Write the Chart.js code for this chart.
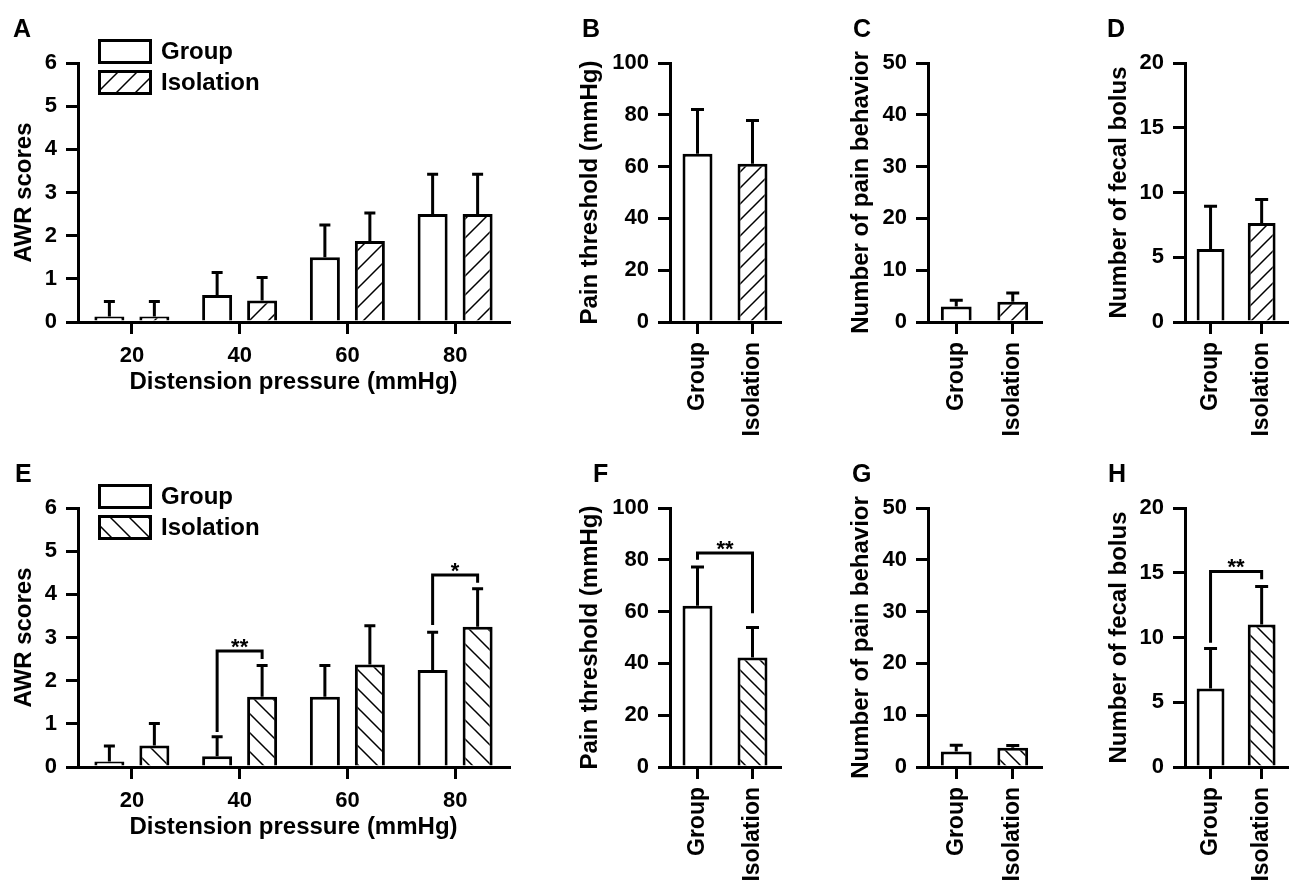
<!DOCTYPE html>
<html>
<head>
<meta charset="utf-8">
<script src="https://cdn.jsdelivr.net/npm/chart.js@4.4.1/dist/chart.umd.min.js"></script>
<style>
  html, body { margin: 0; padding: 0; background: #fff; overflow: hidden; width: 1298px; height: 882px; }
  canvas { position: absolute; }
</style>
</head>
<body>
<canvas id="chart-a"></canvas>
<canvas id="chart-b"></canvas>
<canvas id="chart-c"></canvas>
<canvas id="chart-d"></canvas>
<canvas id="chart-e"></canvas>
<canvas id="chart-f"></canvas>
<canvas id="chart-g"></canvas>
<canvas id="chart-h"></canvas>
<script>
// categories
var pressureLabels = ["20", "40", "60", "80"];
var housingLabels = ["Group", "Isolation"];

// A: AWR scores (mean, SD)
var awrGroupA = [0.125, 0.625, 1.5, 2.5];
var awrGroupSdA = [0.35, 0.52, 0.75, 0.92];
var awrIsoA = [0.125, 0.5, 1.875, 2.5];
var awrIsoSdA = [0.35, 0.53, 0.65, 0.92];

// B-D
var thresholdB = [65, 61.1];
var thresholdSdB = [17, 16.7];
var painC = [3.0, 3.9];
var painSdC = [1.2, 1.7];
var fecalD = [5.64, 7.64];
var fecalSdD = [3.29, 1.81];

// E: AWR scores (mean, SD)
var awrGroupE = [0.125, 0.25, 1.625, 2.25];
var awrGroupSdE = [0.36, 0.45, 0.725, 0.87];
var awrIsoE = [0.5, 1.625, 2.375, 3.25];
var awrIsoSdE = [0.51, 0.725, 0.895, 0.88];

// F-H
var thresholdF = [62.3, 42.3];
var thresholdSdF = [14.9, 11.6];
var painG = [3.0, 3.74];
var painSdG = [1.2, 0.4];
var fecalH = [6.06, 11.0];
var fecalSdH = [3.1, 2.94];

var FONT = '"Liberation Sans", Arial, sans-serif';

function hatch(size, dir) {
  var c = document.createElement("canvas");
  c.width = size;
  c.height = size;
  var g = c.getContext("2d");
  g.fillStyle = "#fff";
  g.fillRect(0, 0, size, size);
  g.strokeStyle = "#000";
  g.lineWidth = 1.5;
  g.beginPath();
  if (dir === "/") {
    g.moveTo(0, size); g.lineTo(size, 0);
    g.moveTo(-size / 2, size / 2); g.lineTo(size / 2, -size / 2);
    g.moveTo(size / 2, size * 1.5); g.lineTo(size * 1.5, size / 2);
  } else {
    g.moveTo(0, 0); g.lineTo(size, size);
    g.moveTo(-size / 2, size / 2); g.lineTo(size / 2, size * 1.5);
    g.moveTo(size / 2, -size / 2); g.lineTo(size * 1.5, size / 2);
  }
  g.stroke();
  return g.createPattern(c, "repeat");
}

// error bars, significance brackets, inline legend and panel letter
var extras = {
  id: "extras",
  afterDatasetsDraw: function (chart, args, opts) {
    var ctx = chart.ctx;
    var y = chart.scales.y;
    ctx.save();
    ctx.strokeStyle = "#000";
    ctx.fillStyle = "#000";
    ctx.lineWidth = 3;
    ctx.lineJoin = "miter";

    chart.data.datasets.forEach(function (ds, di) {
      chart.getDatasetMeta(di).data.forEach(function (bar, i) {
        var top = y.getPixelForValue(ds.data[i] + ds.sd[i]);
        ctx.beginPath();
        ctx.moveTo(bar.x, bar.y);
        ctx.lineTo(bar.x, top);
        ctx.moveTo(bar.x - opts.cap, top);
        ctx.lineTo(bar.x + opts.cap, top);
        ctx.stroke();
      });
    });

    (opts.brackets || []).forEach(function (b) {
      var p1 = chart.getDatasetMeta(b.from[0]).data[b.from[1]];
      var p2 = chart.getDatasetMeta(b.to[0]).data[b.to[1]];
      var yt = y.getPixelForValue(b.top);
      ctx.beginPath();
      ctx.moveTo(p1.x, y.getPixelForValue(b.leftEnd));
      ctx.lineTo(p1.x, yt);
      ctx.lineTo(p2.x, yt);
      ctx.lineTo(p2.x, y.getPixelForValue(b.rightEnd));
      ctx.stroke();
      ctx.font = "bold 22px " + FONT;
      ctx.textAlign = "center";
      ctx.textBaseline = "alphabetic";
      ctx.fillText(b.label, (p1.x + p2.x) / 2, yt + 3);
    });

    if (opts.legend) {
      var lg = opts.legend;
      chart.data.datasets.forEach(function (ds, di) {
        var ly = lg.y + di * lg.gap;
        ctx.fillStyle = ds.legendFill;
        ctx.fillRect(lg.x + 1.5, ly + 1.5, lg.w - 3, lg.h - 3);
        ctx.strokeRect(lg.x + 1.5, ly + 1.5, lg.w - 3, lg.h - 3);
        ctx.fillStyle = "#000";
        ctx.font = "bold 24px " + FONT;
        ctx.textAlign = "left";
        ctx.textBaseline = "middle";
        ctx.fillText(ds.label, lg.x + lg.w + 9, ly + lg.h / 2 + 1);
      });
    }
    ctx.restore();
  },
  afterDraw: function (chart, args, opts) {
    var ctx = chart.ctx;
    ctx.save();
    ctx.fillStyle = "#000";
    ctx.font = "bold 25px " + FONT;
    ctx.textAlign = "left";
    ctx.textBaseline = "alphabetic";
    ctx.fillText(opts.letter[0], opts.letter[1], opts.letter[2]);
    ctx.restore();
  }
};

function makePanel(id, left, top, width, height, p) {
  var canvas = document.getElementById(id);
  canvas.width = width;
  canvas.height = height;
  canvas.style.left = left + "px";
  canvas.style.top = top + "px";

  return new Chart(canvas, {
    type: "bar",
    data: { labels: p.labels, datasets: p.datasets },
    plugins: [extras],
    options: {
      responsive: false,
      animation: false,
      layout: { padding: { top: 63, right: p.padRight, left: 0, bottom: 0 } },
      plugins: {
        legend: { display: false },
        tooltip: { enabled: false },
        extras: { cap: p.cap, brackets: p.brackets, legend: p.legend, letter: p.letter }
      },
      scales: {
        y: {
          min: 0,
          max: p.yMax,
          ticks: {
            stepSize: p.yStep,
            color: "#000",
            padding: 9,
            font: { family: FONT, size: p.yTickSize, weight: "bold" }
          },
          grid: {
            drawOnChartArea: false,
            drawTicks: true,
            tickLength: 12,
            lineWidth: 3,
            color: "#000"
          },
          border: { display: true, width: 3, color: "#000" },
          title: {
            display: true,
            text: p.yTitle,
            color: "#000",
            padding: { top: p.yTitlePad, bottom: 0 },
            font: { family: FONT, size: 24, weight: "bold" }
          },
          afterFit: function (s) { s.width = p.yWidth; }
        },
        x: {
          offset: true,
          ticks: {
            color: "#000",
            autoSkip: false,
            padding: p.xTickPad,
            maxRotation: p.xRotate,
            minRotation: p.xRotate,
            font: { family: FONT, size: p.xTickSize, weight: "bold" }
          },
          grid: {
            offset: false,
            drawOnChartArea: false,
            drawTicks: true,
            tickLength: 12,
            lineWidth: 3,
            color: "#000"
          },
          border: { display: true, width: 3, color: "#000" },
          title: {
            display: !!p.xTitle,
            text: p.xTitle || "",
            color: "#000",
            padding: { top: 0, bottom: 5 },
            font: { family: FONT, size: 24, weight: "bold" }
          },
          afterFit: function (s) { s.height = p.xHeight; }
        }
      }
    }
  });
}

function awrDatasets(g, gSd, iso, isoSd, fill) {
  return [
    {
      label: "Group", data: g, sd: gSd, legendFill: "#fff",
      backgroundColor: "#fff", borderColor: "#000", borderWidth: 3,
      categoryPercentage: 0.835, barPercentage: 0.667
    },
    {
      label: "Isolation", data: iso, sd: isoSd, legendFill: fill,
      backgroundColor: fill, borderColor: "#000", borderWidth: 3,
      categoryPercentage: 0.835, barPercentage: 0.667
    }
  ];
}

function pairDataset(values, sd, fill) {
  return [{
    data: values, sd: sd,
    backgroundColor: ["#fff", fill], borderColor: "#000", borderWidth: 3,
    categoryPercentage: 1, barPercentage: 0.545
  }];
}

var slashBig = hatch(19, "/");
var slashSmall = hatch(16, "/");
var backBig = hatch(19, "\\");
var backSmall = hatch(15, "\\");

var legendBox = { x: 98, y: 39, w: 54, h: 25, gap: 31 };

function awrPanel(id, top, datasets, brackets, letter) {
  return makePanel(id, 0, top, 540, 402, {
    labels: pressureLabels, datasets: datasets,
    yMax: 6, yStep: 1, yTitle: "AWR scores", yWidth: 78, yTitlePad: 9.6, yTickSize: 22,
    xHeight: 80, xRotate: 0, xTickPad: 9, xTickSize: 22, xTitle: "Distension pressure (mmHg)",
    padRight: 31, cap: 5.5, brackets: brackets, legend: legendBox, letter: letter
  });
}

function pairPanel(id, left, top, width, chartLeft, chartRight, yMax, yStep, yTitle, titlePad, values, sd, fill, brackets, letter) {
  return makePanel(id, left, top, width, 452, {
    labels: housingLabels, datasets: pairDataset(values, sd, fill),
    yMax: yMax, yStep: yStep, yTitle: yTitle, yWidth: chartLeft - left, yTitlePad: titlePad, yTickSize: 22,
    xHeight: 130, xRotate: 90, xTickPad: 8, xTickSize: 23, xTitle: null,
    padRight: left + width - chartRight, cap: 6.5, brackets: brackets, legend: null, letter: letter
  });
}

var ROW2 = 445;

awrPanel("chart-a", 0, awrDatasets(awrGroupA, awrGroupSdA, awrIsoA, awrIsoSdA, slashBig), [], ["A", 13, 37]);
pairPanel("chart-b", 560, 0, 240, 670, 780, 100, 20, "Pain threshold (mmHg)", 15.6, thresholdB, thresholdSdB, slashSmall, [], ["B", 22, 37]);
pairPanel("chart-c", 820, 0, 240, 928, 1041, 50, 10, "Number of pain behavior", 26.6, painC, painSdC, slashSmall, [], ["C", 33, 37]);
pairPanel("chart-d", 1060, 0, 238, 1185, 1295, 20, 5, "Number of fecal bolus", 45, fecalD, fecalSdD, slashSmall, [], ["D", 47, 37]);

awrPanel("chart-e", ROW2, awrDatasets(awrGroupE, awrGroupSdE, awrIsoE, awrIsoSdE, backBig), [
  { from: [0, 1], to: [1, 1], top: 2.69, leftEnd: 0.81, rightEnd: 2.5, label: "**" },
  { from: [0, 3], to: [1, 3], top: 4.45, leftEnd: 3.29, rightEnd: 4.27, label: "*" }
], ["E", 15, 37]);
pairPanel("chart-f", 560, ROW2, 240, 670, 780, 100, 20, "Pain threshold (mmHg)", 15.6, thresholdF, thresholdSdF, backSmall, [
  { from: [0, 0], to: [0, 1], top: 82.6, leftEnd: 80, rightEnd: 59.4, label: "**" }
], ["F", 33, 37]);
pairPanel("chart-g", 820, ROW2, 240, 928, 1041, 50, 10, "Number of pain behavior", 26.6, painG, painSdG, backSmall, [], ["G", 32, 37]);
pairPanel("chart-h", 1060, ROW2, 238, 1185, 1295, 20, 5, "Number of fecal bolus", 45, fecalH, fecalSdH, backSmall, [
  { from: [0, 0], to: [0, 1], top: 15.1, leftEnd: 9.6, rightEnd: 14.5, label: "**" }
], ["H", 48, 37]);
</script>
</body>
</html>
